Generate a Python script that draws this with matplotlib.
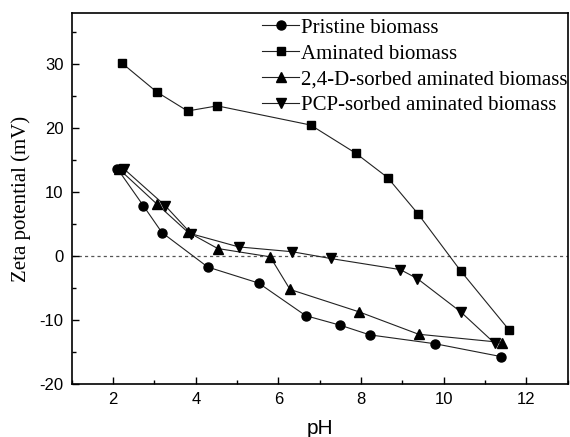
import matplotlib
matplotlib.use("Agg")
import matplotlib.pyplot as plt
from matplotlib.ticker import MultipleLocator

plt.rcParams['axes.unicode_minus'] = False

# Data
ph_pristine = [2.10, 2.73, 3.18, 4.29, 5.52, 6.66, 7.50, 8.21, 9.80, 11.39]
z_pristine = [13.7, 7.9, 3.7, -1.7, -4.2, -9.3, -10.8, -12.3, -13.7, -15.7]

ph_aminated = [2.21, 3.05, 3.80, 4.52, 6.78, 7.87, 8.64, 9.38, 10.41, 11.59]
z_aminated = [30.2, 25.7, 22.7, 23.5, 20.5, 16.1, 12.3, 6.6, -2.3, -11.6]

ph_24d = [2.13, 3.05, 3.80, 4.53, 5.80, 6.28, 7.95, 9.39, 11.42]
z_24d = [13.7, 8.2, 3.8, 1.2, -0.1, -5.2, -8.7, -12.2, -13.5]

ph_pcp = [2.27, 3.26, 3.89, 5.04, 6.33, 7.26, 8.95, 9.36, 10.41, 11.23]
z_pcp = [13.6, 7.9, 3.5, 1.45, 0.7, -0.36, -2.1, -3.5, -8.7, -13.6]

labels = ["Pristine biomass", "Aminated biomass",
          "2,4-D-sorbed aminated biomass", "PCP-sorbed aminated biomass"]

fig = plt.figure(figsize=(5.70, 4.37), dpi=100)
ax = fig.add_axes([0.126, 0.121, 0.870, 0.849])

lw = 0.8
lc = '#222222'
h1, = ax.plot(ph_pristine, z_pristine, '-o', color=lc, mfc='black', mec='black', lw=lw, ms=6.5)
h2, = ax.plot(ph_aminated, z_aminated, '-s', color=lc, mfc='black', mec='black', lw=lw, ms=5.5)
h3, = ax.plot(ph_24d, z_24d, '-^', color=lc, mfc='black', mec='black', lw=lw, ms=7)
h4, = ax.plot(ph_pcp, z_pcp, '-v', color=lc, mfc='black', mec='black', lw=lw, ms=7)

ax.axhline(0, color='#555555', lw=0.9, ls=(0, (2.5, 2.5)), zorder=0)

ax.set_xlim(1, 13)
ax.set_ylim(-20, 38)
ax.xaxis.set_major_locator(MultipleLocator(2))
ax.xaxis.set_minor_locator(MultipleLocator(1))
ax.yaxis.set_major_locator(MultipleLocator(10))
ax.yaxis.set_minor_locator(MultipleLocator(5))
ax.tick_params(which='both', direction='in', top=False, right=False)
ax.tick_params(which='major', length=5, width=1, labelsize=12, pad=6)
ax.tick_params(which='minor', length=3, width=1)
for lab in ax.get_xticklabels() + ax.get_yticklabels():
    lab.set_family('Liberation Sans')
for sp in ax.spines.values():
    sp.set_linewidth(1.2)

ax.set_xlabel('pH', family='Liberation Sans', fontsize=15, labelpad=8)
ax.set_ylabel('Zeta potential (mV)', family='Liberation Serif', fontsize=15, labelpad=6)

leg = fig.legend([h1, h2, h3, h4], labels, loc='upper left',
                 bbox_to_anchor=(0.452, 0.968), frameon=False,
                 prop={'family': 'Liberation Serif', 'size': 15},
                 handlelength=1.8, handletextpad=0.1, labelspacing=0.3,
                 borderpad=0.2, borderaxespad=0)

fig.savefig('out.png', dpi=100)
